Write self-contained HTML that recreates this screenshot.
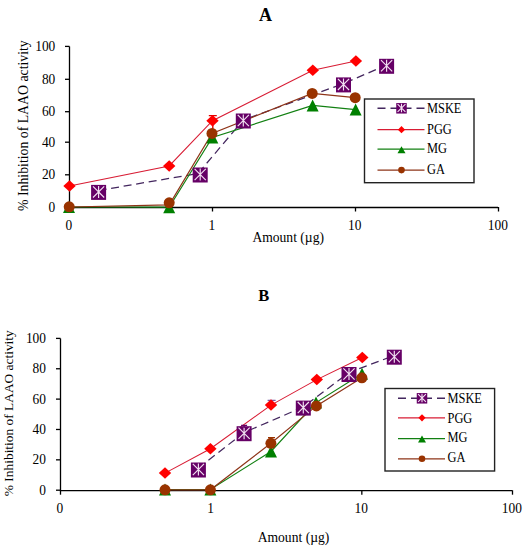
<!DOCTYPE html>
<html><head><meta charset="utf-8"><style>
html,body{margin:0;padding:0;background:#fff;width:528px;height:550px;overflow:hidden}
svg{display:block}
text{font-family:"Liberation Serif", serif;fill:#000}
</style></head><body>
<svg width="528" height="550" viewBox="0 0 528 550">
<rect width="528" height="550" fill="#fff"/>
<path d="M69.5,46.5V207.5H498" fill="none" stroke="#000" stroke-width="1.3"/>
<path d="M65,207.30H69.5" stroke="#000" stroke-width="1.3"/>
<text transform="translate(55.3,211.90) scale(1.0,1.1)" font-size="13.4" text-anchor="end" font-weight="normal">0</text>
<path d="M65,174.80H69.5" stroke="#000" stroke-width="1.3"/>
<text transform="translate(55.3,179.40) scale(1.0,1.1)" font-size="13.4" text-anchor="end" font-weight="normal">20</text>
<path d="M65,142.20H69.5" stroke="#000" stroke-width="1.3"/>
<text transform="translate(55.3,146.80) scale(1.0,1.1)" font-size="13.4" text-anchor="end" font-weight="normal">40</text>
<path d="M65,111.70H69.5" stroke="#000" stroke-width="1.3"/>
<text transform="translate(55.3,116.30) scale(1.0,1.1)" font-size="13.4" text-anchor="end" font-weight="normal">60</text>
<path d="M65,79.30H69.5" stroke="#000" stroke-width="1.3"/>
<text transform="translate(55.3,83.90) scale(1.0,1.1)" font-size="13.4" text-anchor="end" font-weight="normal">80</text>
<path d="M65,46.40H69.5" stroke="#000" stroke-width="1.3"/>
<text transform="translate(55.3,51.00) scale(1.0,1.1)" font-size="13.4" text-anchor="end" font-weight="normal">100</text>
<path d="M69.50,207V211.5" stroke="#000" stroke-width="1.3"/>
<text transform="translate(68.80,230) scale(1.0,1.1)" font-size="13.4" text-anchor="middle" font-weight="normal">0</text>
<path d="M212.50,207V211.5" stroke="#000" stroke-width="1.3"/>
<text transform="translate(211.80,230) scale(1.0,1.1)" font-size="13.4" text-anchor="middle" font-weight="normal">1</text>
<path d="M355.50,207V211.5" stroke="#000" stroke-width="1.3"/>
<text transform="translate(354.80,230) scale(1.0,1.1)" font-size="13.4" text-anchor="middle" font-weight="normal">10</text>
<path d="M498.50,207V211.5" stroke="#000" stroke-width="1.3"/>
<text transform="translate(497.80,230) scale(1.0,1.1)" font-size="13.4" text-anchor="middle" font-weight="normal">100</text>
<text transform="translate(265.5,20.8) scale(1.0,1.0)" font-size="18" text-anchor="middle" font-weight="bold">A</text>
<text transform="translate(288.2,241.6) scale(1.0,1.14)" font-size="13.6" text-anchor="middle" font-weight="normal">Amount (&#181;g)</text>
<text transform="translate(27.8,125.6) rotate(-90) scale(1.0,1.05)" font-size="13.8" text-anchor="middle" font-weight="normal">% Inhibition of LAAO activity</text>
<polyline points="98.60,190.50 198.00,173.50 243.30,120.00 343.50,83.60 386.60,65.00" fill="none" stroke="#43265e" stroke-width="1.25" stroke-dasharray="8,4.7"/>
<polyline points="69.50,186.00 169.20,165.90 212.50,120.70 312.80,70.30 355.90,60.90" fill="none" stroke="#d81c34" stroke-width="1.05"/>
<polyline points="69.00,207.00 169.20,207.20 212.30,137.50 312.60,105.40 355.60,109.60" fill="none" stroke="#128012" stroke-width="1.2"/>
<polyline points="69.20,207.00 169.20,204.90 212.00,133.40 312.20,93.40 355.20,97.70" fill="none" stroke="#8e3418" stroke-width="1.2"/>
<rect x="91.10" y="184.90" width="15" height="15" fill="#660066"/><path d="M93.00,186.30L104.20,197.50M104.20,186.30L93.00,197.50M98.60,185.92L98.60,197.88" stroke="#f2e0f2" stroke-width="1.15" fill="none"/>
<rect x="192.70" y="167.50" width="15" height="15" fill="#660066"/><path d="M194.60,168.90L205.80,180.10M205.80,168.90L194.60,180.10M200.20,168.52L200.20,180.48" stroke="#f2e0f2" stroke-width="1.15" fill="none"/>
<rect x="235.80" y="113.50" width="15" height="15" fill="#660066"/><path d="M237.70,114.90L248.90,126.10M248.90,114.90L237.70,126.10M243.30,114.52L243.30,126.48" stroke="#f2e0f2" stroke-width="1.15" fill="none"/>
<rect x="336.00" y="77.40" width="15" height="15" fill="#660066"/><path d="M337.90,78.80L349.10,90.00M349.10,78.80L337.90,90.00M343.50,78.42L343.50,90.38" stroke="#f2e0f2" stroke-width="1.15" fill="none"/>
<rect x="379.10" y="58.80" width="15" height="15" fill="#660066"/><path d="M381.00,60.20L392.20,71.40M392.20,60.20L381.00,71.40M386.60,59.82L386.60,71.78" stroke="#f2e0f2" stroke-width="1.15" fill="none"/>
<path d="M208.80,115.6H216.80M212.80,115.6V129" stroke="#e00000" stroke-width="1.4" fill="none"/>
<path d="M69.50,180.23L75.70,186.00L69.50,191.77L63.30,186.00Z" fill="#ff0000"/>
<path d="M169.20,160.13L175.40,165.90L169.20,171.67L163.00,165.90Z" fill="#ff0000"/>
<path d="M212.50,114.93L218.70,120.70L212.50,126.47L206.30,120.70Z" fill="#ff0000"/>
<path d="M312.80,64.53L319.00,70.30L312.80,76.07L306.60,70.30Z" fill="#ff0000"/>
<path d="M355.90,55.13L362.10,60.90L355.90,66.67L349.70,60.90Z" fill="#ff0000"/>
<path d="M69.00,201.00L75.00,213.00L63.00,213.00Z" fill="#008000"/>
<path d="M169.20,201.20L175.20,213.20L163.20,213.20Z" fill="#008000"/>
<path d="M212.30,131.50L218.30,143.50L206.30,143.50Z" fill="#008000"/>
<path d="M312.60,99.40L318.60,111.40L306.60,111.40Z" fill="#008000"/>
<path d="M355.60,103.60L361.60,115.60L349.60,115.60Z" fill="#008000"/>
<circle cx="69.20" cy="206.80" r="5.5" fill="#993300"/>
<circle cx="169.20" cy="202.80" r="5.5" fill="#993300"/>
<circle cx="212.00" cy="133.40" r="5.5" fill="#993300"/>
<circle cx="312.20" cy="93.40" r="5.5" fill="#993300"/>
<circle cx="355.20" cy="97.70" r="5.5" fill="#993300"/>
<rect x="364.5" y="99" width="109.5" height="83.69999999999999" fill="#fff" stroke="#222" stroke-width="1.4"/>
<path d="M377.5,108.3H424.5" stroke="#43265e" stroke-width="1.4" stroke-dasharray="8,5"/>
<rect x="396.25" y="103.05" width="10.5" height="10.5" fill="#660066"/><path d="M397.58,104.03L405.42,111.87M405.42,104.03L397.58,111.87M401.50,103.76L401.50,112.14" stroke="#f2e0f2" stroke-width="1.10" fill="none"/>
<path d="M377.5,129.7H424.5" stroke="#d81c34" stroke-width="1.3"/>
<path d="M401.50,126.10L405.10,129.70L401.50,133.30L397.90,129.70Z" fill="#ff0000"/>
<path d="M377.5,149.2H424.5" stroke="#128012" stroke-width="1.3"/>
<path d="M401.50,146.20L405.50,153.20L397.50,153.20Z" fill="#008000"/>
<path d="M377.5,170.1H424.5" stroke="#8e3418" stroke-width="1.3"/>
<circle cx="401.50" cy="170.10" r="3.3" fill="#993300"/>
<text transform="translate(427.0,113.30) scale(1.0,1.22)" font-size="12.4" text-anchor="start" font-weight="normal">MSKE</text>
<text transform="translate(427.0,134.20) scale(1.0,1.22)" font-size="12.4" text-anchor="start" font-weight="normal">PGG</text>
<text transform="translate(427.0,153.10) scale(1.0,1.22)" font-size="12.4" text-anchor="start" font-weight="normal">MG</text>
<text transform="translate(427.0,173.90) scale(1.0,1.22)" font-size="12.4" text-anchor="start" font-weight="normal">GA</text>
<path d="M60.5,338.4V490.7H512" fill="none" stroke="#000" stroke-width="1.3"/>
<path d="M56,490.20H60.5" stroke="#000" stroke-width="1.3"/>
<text transform="translate(46,494.80) scale(1.0,1.1)" font-size="13.4" text-anchor="end" font-weight="normal">0</text>
<path d="M56,459.84H60.5" stroke="#000" stroke-width="1.3"/>
<text transform="translate(46,464.44) scale(1.0,1.1)" font-size="13.4" text-anchor="end" font-weight="normal">20</text>
<path d="M56,429.48H60.5" stroke="#000" stroke-width="1.3"/>
<text transform="translate(46,434.08) scale(1.0,1.1)" font-size="13.4" text-anchor="end" font-weight="normal">40</text>
<path d="M56,399.12H60.5" stroke="#000" stroke-width="1.3"/>
<text transform="translate(46,403.72) scale(1.0,1.1)" font-size="13.4" text-anchor="end" font-weight="normal">60</text>
<path d="M56,368.76H60.5" stroke="#000" stroke-width="1.3"/>
<text transform="translate(46,373.36) scale(1.0,1.1)" font-size="13.4" text-anchor="end" font-weight="normal">80</text>
<path d="M56,338.40H60.5" stroke="#000" stroke-width="1.3"/>
<text transform="translate(46,343.00) scale(1.0,1.1)" font-size="13.4" text-anchor="end" font-weight="normal">100</text>
<path d="M60.50,490.2V494.7" stroke="#000" stroke-width="1.3"/>
<text transform="translate(59.80,512.7) scale(1.0,1.1)" font-size="13.4" text-anchor="middle" font-weight="normal">0</text>
<path d="M211.17,490.2V494.7" stroke="#000" stroke-width="1.3"/>
<text transform="translate(210.47,512.7) scale(1.0,1.1)" font-size="13.4" text-anchor="middle" font-weight="normal">1</text>
<path d="M361.83,490.2V494.7" stroke="#000" stroke-width="1.3"/>
<text transform="translate(361.13,512.7) scale(1.0,1.1)" font-size="13.4" text-anchor="middle" font-weight="normal">10</text>
<path d="M512.50,490.2V494.7" stroke="#000" stroke-width="1.3"/>
<text transform="translate(511.80,512.7) scale(1.0,1.1)" font-size="13.4" text-anchor="middle" font-weight="normal">100</text>
<text transform="translate(263.7,300.8) scale(1.0,1.0)" font-size="16.5" text-anchor="middle" font-weight="bold">B</text>
<text transform="translate(293.5,542) scale(1.0,1.14)" font-size="13.6" text-anchor="middle" font-weight="normal">Amount (&#181;g)</text>
<text transform="translate(12.9,413.2) rotate(-90) scale(1.0,1.0)" font-size="13.4" text-anchor="middle" font-weight="normal">% Inhibition of LAAO activity</text>
<polyline points="198.40,468.00 244.10,432.50 303.30,407.00 349.00,372.50 394.30,355.50" fill="none" stroke="#43265e" stroke-width="1.25" stroke-dasharray="8,4.7"/>
<polyline points="165.00,473.10 210.40,448.70 271.00,405.10 316.80,379.60 362.30,357.50" fill="none" stroke="#d81c34" stroke-width="1.05"/>
<polyline points="165.00,489.50 210.40,489.50 271.00,451.50 316.00,402.60 362.00,373.80" fill="none" stroke="#128012" stroke-width="1.2"/>
<polyline points="165.00,489.80 210.40,489.80 270.90,443.30 316.40,405.90 361.90,377.80" fill="none" stroke="#8e3418" stroke-width="1.2"/>
<rect x="190.90" y="462.50" width="15" height="15" fill="#660066"/><path d="M192.80,463.90L204.00,475.10M204.00,463.90L192.80,475.10M198.40,463.52L198.40,475.48" stroke="#f2e0f2" stroke-width="1.15" fill="none"/>
<rect x="236.60" y="426.20" width="15" height="15" fill="#660066"/><path d="M238.50,427.60L249.70,438.80M249.70,427.60L238.50,438.80M244.10,427.22L244.10,439.18" stroke="#f2e0f2" stroke-width="1.15" fill="none"/>
<rect x="295.80" y="400.60" width="15" height="15" fill="#660066"/><path d="M297.70,402.00L308.90,413.20M308.90,402.00L297.70,413.20M303.30,401.62L303.30,413.58" stroke="#f2e0f2" stroke-width="1.15" fill="none"/>
<rect x="341.50" y="367.00" width="15" height="15" fill="#660066"/><path d="M343.40,368.40L354.60,379.60M354.60,368.40L343.40,379.60M349.00,368.02L349.00,379.98" stroke="#f2e0f2" stroke-width="1.15" fill="none"/>
<rect x="386.80" y="349.70" width="15" height="15" fill="#660066"/><path d="M388.70,351.10L399.90,362.30M399.90,351.10L388.70,362.30M394.30,350.72L394.30,362.68" stroke="#f2e0f2" stroke-width="1.15" fill="none"/>
<path d="M268.00,437.6H275.00M271.50,437.6V444" stroke="#993300" stroke-width="1.4" fill="none"/>
<path d="M241.10,425.4H247.10M244.10,425.4V428" stroke="#660066" stroke-width="1.4" fill="none"/>
<path d="M267.60,400.4H275.60M271.60,400.4V404" stroke="#7a5aa8" stroke-width="1.4" fill="none"/>
<path d="M165.00,467.33L171.20,473.10L165.00,478.87L158.80,473.10Z" fill="#ff0000"/>
<path d="M210.40,442.93L216.60,448.70L210.40,454.47L204.20,448.70Z" fill="#ff0000"/>
<path d="M271.00,399.33L277.20,405.10L271.00,410.87L264.80,405.10Z" fill="#ff0000"/>
<path d="M316.80,373.83L323.00,379.60L316.80,385.37L310.60,379.60Z" fill="#ff0000"/>
<path d="M362.30,351.73L368.50,357.50L362.30,363.27L356.10,357.50Z" fill="#ff0000"/>
<path d="M165.00,483.50L171.00,495.50L159.00,495.50Z" fill="#008000"/>
<path d="M210.40,483.50L216.40,495.50L204.40,495.50Z" fill="#008000"/>
<path d="M271.00,445.50L277.00,457.50L265.00,457.50Z" fill="#008000"/>
<path d="M316.00,396.60L322.00,408.60L310.00,408.60Z" fill="#008000"/>
<path d="M362.00,367.80L368.00,379.80L356.00,379.80Z" fill="#008000"/>
<circle cx="165.00" cy="489.80" r="5.5" fill="#993300"/>
<circle cx="210.40" cy="489.80" r="5.5" fill="#993300"/>
<circle cx="270.90" cy="443.30" r="5.5" fill="#993300"/>
<circle cx="316.40" cy="405.90" r="5.5" fill="#993300"/>
<circle cx="361.90" cy="377.80" r="5.5" fill="#993300"/>
<rect x="385" y="388.5" width="109.60000000000002" height="82.5" fill="#fff" stroke="#222" stroke-width="1.4"/>
<path d="M398,398.3H445" stroke="#43265e" stroke-width="1.4" stroke-dasharray="8,5"/>
<rect x="416.75" y="393.05" width="10.5" height="10.5" fill="#660066"/><path d="M418.08,394.03L425.92,401.87M425.92,394.03L418.08,401.87M422.00,393.76L422.00,402.14" stroke="#f2e0f2" stroke-width="1.10" fill="none"/>
<path d="M398,417.8H445" stroke="#d81c34" stroke-width="1.3"/>
<path d="M422.00,414.20L425.60,417.80L422.00,421.40L418.40,417.80Z" fill="#ff0000"/>
<path d="M398,438.6H445" stroke="#128012" stroke-width="1.3"/>
<path d="M422.00,435.60L426.00,442.60L418.00,442.60Z" fill="#008000"/>
<path d="M398,458.8H445" stroke="#8e3418" stroke-width="1.3"/>
<circle cx="422.00" cy="458.80" r="3.3" fill="#993300"/>
<text transform="translate(447.5,403.00) scale(1.0,1.22)" font-size="12.4" text-anchor="start" font-weight="normal">MSKE</text>
<text transform="translate(447.5,422.60) scale(1.0,1.22)" font-size="12.4" text-anchor="start" font-weight="normal">PGG</text>
<text transform="translate(447.5,442.20) scale(1.0,1.22)" font-size="12.4" text-anchor="start" font-weight="normal">MG</text>
<text transform="translate(447.5,462.20) scale(1.0,1.22)" font-size="12.4" text-anchor="start" font-weight="normal">GA</text>
</svg>
</body></html>
